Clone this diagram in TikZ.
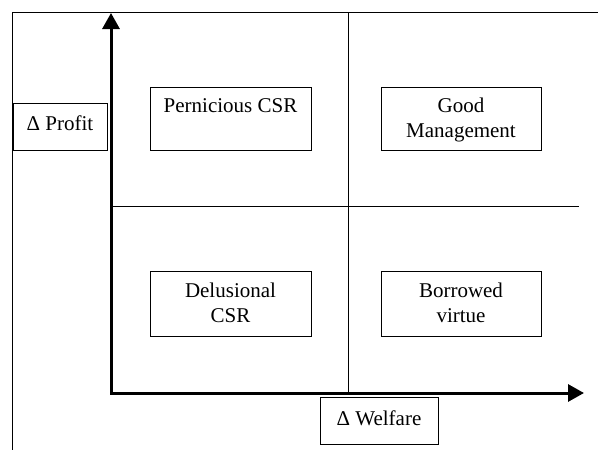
\documentclass[tikz,border=0pt]{standalone}
\usepackage{fontspec}
\setmainfont{Liberation Serif}
\usetikzlibrary{arrows.meta}
\begin{document}
\begin{tikzpicture}[x=1pt,y=-1pt,
  frameline/.style={line width=1pt},
  box/.style={draw, line width=1pt, inner sep=0pt},
  txt/.style={font=\fontsize{21}{25}\selectfont, align=center, inner sep=0pt, anchor=north},
  axis/.style={line width=3pt, line join=miter, {Triangle[length=16pt,width=17pt]}-{Triangle[length=16pt,width=17pt]}}]
\useasboundingbox (0,0) rectangle (598,450);
% outer frame (partially visible)
\coordinate (fbl) at (12,450);
\coordinate (ftl) at (12,12);
\coordinate (ftr) at (598,12);
\draw[frameline] (fbl) -- (ftl) -- (ftr);
% quadrant dividers
\coordinate (vdt) at (348,12);
\coordinate (vdb) at (348,393);
\coordinate (hdl) at (111,206);
\coordinate (hdr) at (579,206);
\draw[frameline] (vdt) -- (vdb);
\draw[frameline] (hdl) -- (hdr);
% axes
\coordinate (O) at (111,393);
\coordinate (ytop) at (111,13);
\coordinate (xend) at (584,393);
\draw[axis] (ytop) -- (O) -- (xend);
% boxes
\node[box, fill=white, minimum width=161pt, minimum height=63pt] (pern) at (230.5,118.5) {};
\node[box, fill=white, minimum width=160pt, minimum height=63pt] (good) at (461,118.5) {};
\node[box, fill=white, minimum width=161pt, minimum height=65pt] (delu) at (230.5,303.5) {};
\node[box, fill=white, minimum width=160pt, minimum height=65pt] (borr) at (461,303.5) {};
\node[box, fill=white, minimum width=94pt, minimum height=47pt] (profit) at (60,126.5) {};
\node[box, fill=white, minimum width=118pt, minimum height=47pt] (welfare) at (379,420.5) {};
% texts
\node[txt] (pernT) at ([yshift=-12pt]pern.north) {Pernicious CSR};
\node[txt] (goodT) at ([yshift=-11pt]good.north) {Good\\Management};
\node[txt] (deluT) at ([yshift=-12pt]delu.north) {Delusional\\CSR};
\node[txt] (borrT) at ([yshift=-12pt]borr.north) {Borrowed\\virtue};
\node[txt] (profitT) at ([yshift=-13pt]profit.north) {Δ Profit};
\node[txt] (welfareT) at ([yshift=-14pt]welfare.north) {Δ Welfare};
\end{tikzpicture}
\end{document}
